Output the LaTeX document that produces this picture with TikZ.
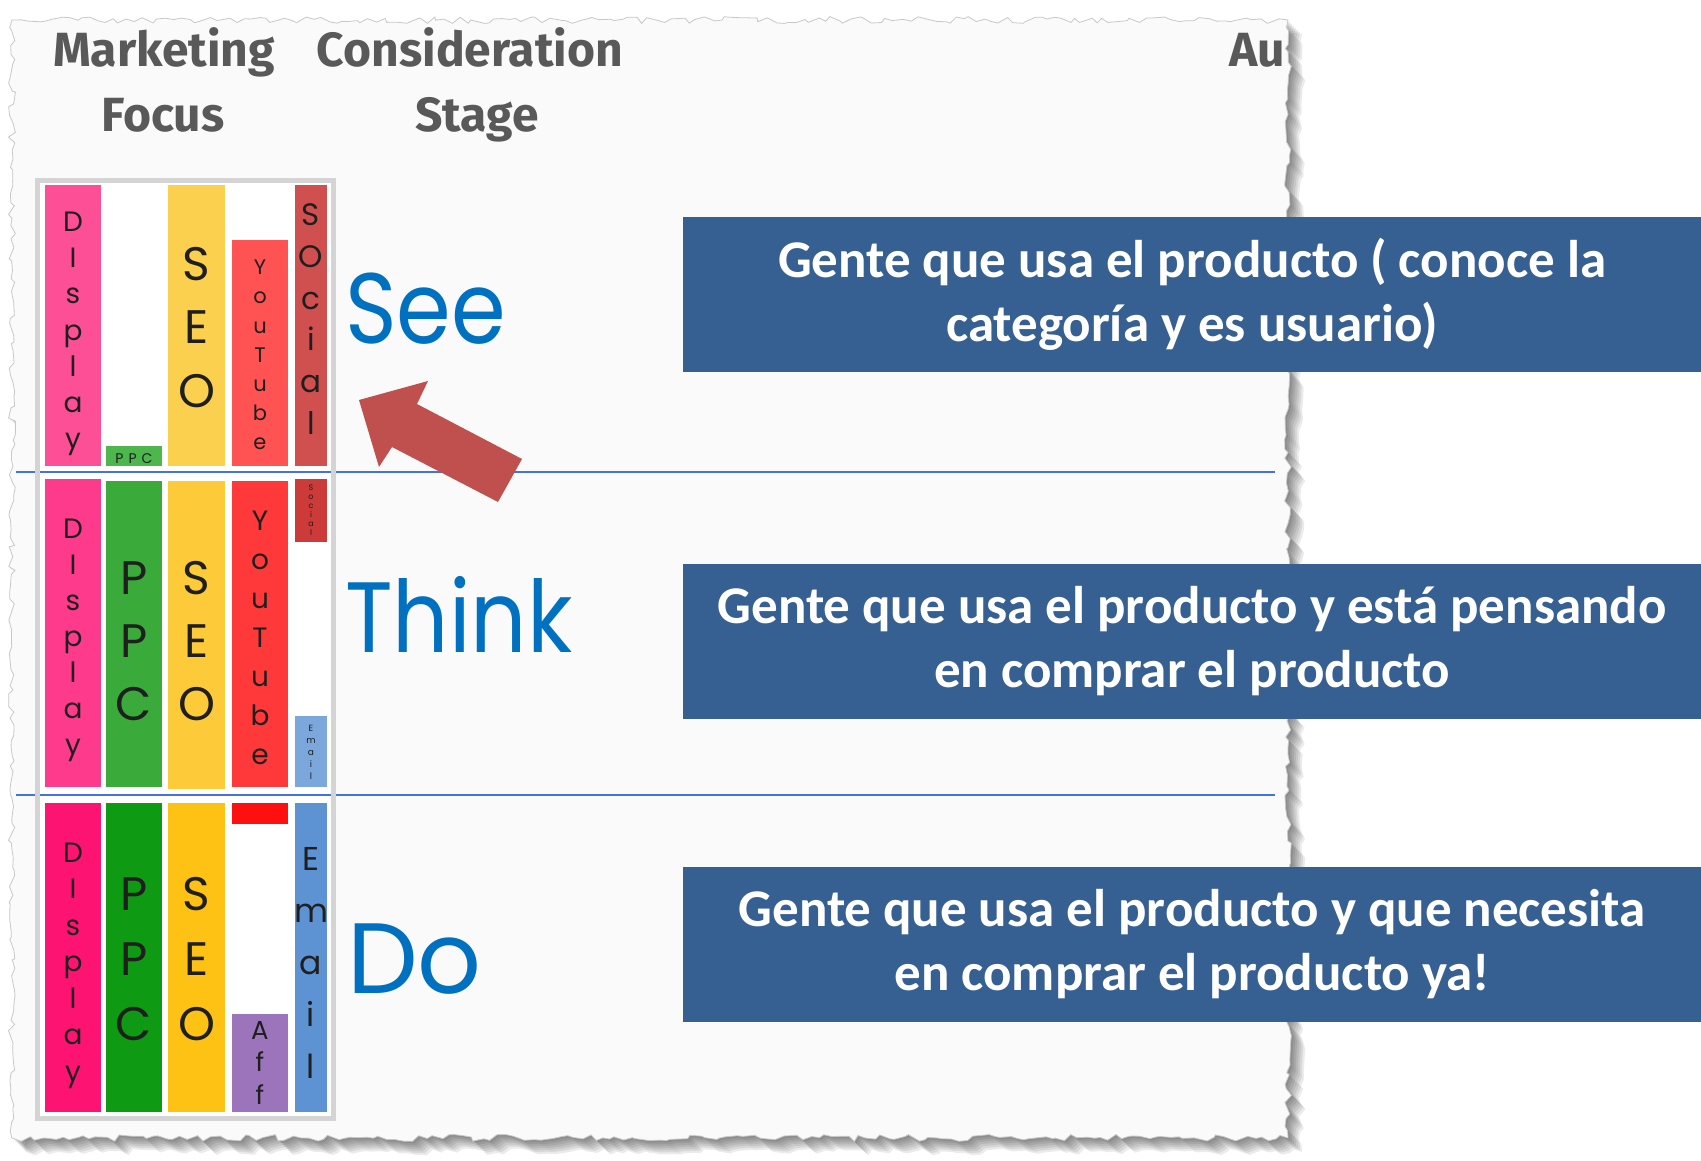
\documentclass[tikz,border=0pt]{standalone}
\usepackage{fontspec}
\usetikzlibrary{decorations.pathmorphing}
\setmainfont{Carlito}
\newfontfamily\headfont{Fira Sans}
\newfontfamily\geofont{Poppins}
\newfontfamily\stagefont[FakeStretch=0.88]{Poppins}

\definecolor{paper}{HTML}{FAFAFA}
\definecolor{edge}{HTML}{C8C8C8}
\definecolor{headgray}{HTML}{595959}
\definecolor{stageblue}{HTML}{0070C0}
\definecolor{rowline}{HTML}{4472E0}
\definecolor{boxblue}{HTML}{376092}
\definecolor{arrowred}{HTML}{C0504D}
\definecolor{framegray}{HTML}{D4D4D4}
% bar colours, one letter per row (A see, B think, C do)
\definecolor{dispA}{HTML}{FD4F96}\definecolor{ppcA}{HTML}{4DB64D}\definecolor{seoA}{HTML}{FCD04F}
\definecolor{ytA}{HTML}{FF5252}\definecolor{socA}{HTML}{D05050}
\definecolor{dispB}{HTML}{FE3A8C}\definecolor{ppcB}{HTML}{3AAB3A}\definecolor{seoB}{HTML}{FDCA3A}
\definecolor{ytB}{HTML}{FF3939}\definecolor{socB}{HTML}{CC3A3A}\definecolor{mailB}{HTML}{7BA7DC}
\definecolor{dispC}{HTML}{FD1472}\definecolor{ppcC}{HTML}{0F9A14}\definecolor{seoC}{HTML}{FDC213}
\definecolor{ytC}{HTML}{FF1010}\definecolor{affC}{HTML}{9C74BB}\definecolor{mailC}{HTML}{5E93D3}

\tikzset{
  torn/.style={decorate, decoration={random steps, segment length=7pt, amplitude=3.5pt}},
  barletter/.style={anchor=base, inner sep=0pt, text=black!88, font=\geofont},
  stagelabel/.style={anchor=base west, inner sep=0pt, text=stageblue, font=\stagefont\fontsize{100}{100}\selectfont},
  head/.style={anchor=base, inner sep=0pt, text=headgray, font=\headfont\bfseries\fontsize{48}{48}\selectfont},
  infobox/.style={fill=boxblue, text=white, minimum width=1018, minimum height=155, anchor=west,
    align=center, font=\bfseries\fontsize{53}{64}\selectfont},
}

% stacked letters of one bar: name, x, first baseline, step, size, letters
\newcommand{\barword}[6]{%
  \foreach[count=\i] \c in {#6}
    \node[barletter] (#1\i) at (#2,{#3+(\i-1)*#4}) {\fontsize{#5}{#5}\selectfont\c};
}

\begin{document}
\begin{tikzpicture}[x=1pt,y=-1pt]
        \useasboundingbox (0,0) rectangle (1701,1161);
        \fill [white] (0,0) rectangle (1701,1161);
        % torn paper with its shadow
        \foreach \s in {14,12,...,2}{
            \pgfmathsetseed{11}
            \fill [black,opacity=.08,torn,shift={(\s,\s)}] (12,20) -- (1288,20) -- (1288,1138) -- (12,1138) -- cycle;
        }
        \pgfmathsetseed{11}
        \filldraw [fill=paper,draw=edge,line width=.8,torn] (12,20) -- (1288,20) -- (1288,1138) -- (12,1138) -- cycle;

        \node [head] (mkt) at (164,67) {Marketing};
        \node [head] (focus) at (163,132) {Focus};
        \node [head] (cons) at (470,67) {Consideration};
        \node [head] (stg) at (477,132) {Stage};
        \begin{scope}
            \clip (1200,0) rectangle (1284,120);
            \node [head,anchor=base west] (aud) at (1229,67) {Au};
        \end{scope}

        \fill [white] (37.5,180.5) rectangle (333,1118);
        \foreach \y in {472,795}{
            \draw [rowline,line width=2] (16,\y) -- (1275,\y);
        }
        \draw [framegray,line width=5] (37.5,180.5) rectangle (333,1118);

        % see
        \fill [dispA] (45,185) rectangle (101,466);
        \fill [ppcA] (106,446) rectangle (162,466);
        \fill [seoA] (168,185) rectangle (225,466);
        \fill [ytA] (232,240) rectangle (288,466);
        \fill [socA] (295,185) rectangle (327,466);
        % think
        \fill [dispB] (45,479) rectangle (101,787);
        \fill [ppcB] (106,481) rectangle (162,787);
        \fill [seoB] (168,481) rectangle (225,789);
        \fill [ytB] (232,481) rectangle (288,787);
        \fill [socB] (295,479) rectangle (327,542);
        \fill [mailB] (295,716) rectangle (327,787);
        % do
        \fill [dispC] (45,803) rectangle (101,1112);
        \fill [ppcC] (106,803) rectangle (162,1112);
        \fill [seoC] (168,803) rectangle (225,1112);
        \fill [ytC] (232,803) rectangle (288,824);
        \fill [affC] (232,1014) rectangle (288,1112);
        \fill [mailC] (295,803) rectangle (327,1112);

        \barword{dispA}{73}{232}{36}{28}{D,I,s,p,l,a,y}
        \node [barletter] (ppcA) at (134,463) {\fontsize{14}{14}\selectfont P\hspace{5pt}P\hspace{5pt}C};
        \barword{seoA}{196.5}{280}{63.5}{47}{S,E,O}
        \barword{ytA}{260}{275}{29}{21}{Y,o,u,T,u,b,e}
        \barword{socA}{311}{226}{41.6}{31}{S,O,c,i,a,l}

        \barword{dispB}{73}{538}{36}{28}{D,I,s,p,l,a,y}
        \barword{ppcB}{134}{594}{63}{47}{P,P,C}
        \barword{seoB}{196.5}{594}{63}{47}{S,E,O}
        \barword{ytB}{260}{530}{39}{28}{Y,o,u,T,u,b,e}
        \barword{socB}{311}{490}{9}{8}{S,o,c,i,a,l}
        \barword{mailB}{311}{731}{12}{9}{E,m,a,i,l}

        \barword{dispC}{73}{862}{36.5}{28}{D,I,s,p,l,a,y}
        \barword{ppcC}{134}{910}{65}{47}{P,P,C}
        \barword{seoC}{196.5}{910}{65}{47}{S,E,O}
        \barword{affC}{260}{1039}{32.5}{26}{A,f,f}
        \barword{mailC}{311}{870}{52}{33}{E,m,a,i,l}

        \node [stagelabel] (see) at (345,343) {See};
        \node [stagelabel] (think) at (345,652) {Think};
        \node [stagelabel,font=\geofont\fontsize{100}{100}\selectfont] (do) at (347,993) {Do};

        \fill [arrowred] (359,400) -- (428,381) -- (417,404) -- (522,459) -- (498,502) -- (392,447) -- (379,467) -- cycle;

        \node [infobox] (seeinfo) at (683,294.5) {Gente que usa el producto ( conoce la\\categoría y es usuario)};
        \node [infobox] (thinkinfo) at (683,641.5) {Gente que usa el producto y está pensando\\en comprar el producto};
        \node [infobox] (doinfo) at (683,944) {Gente que usa el producto y que necesita\\en comprar el producto ya!};

\end{tikzpicture}
\end{document}
